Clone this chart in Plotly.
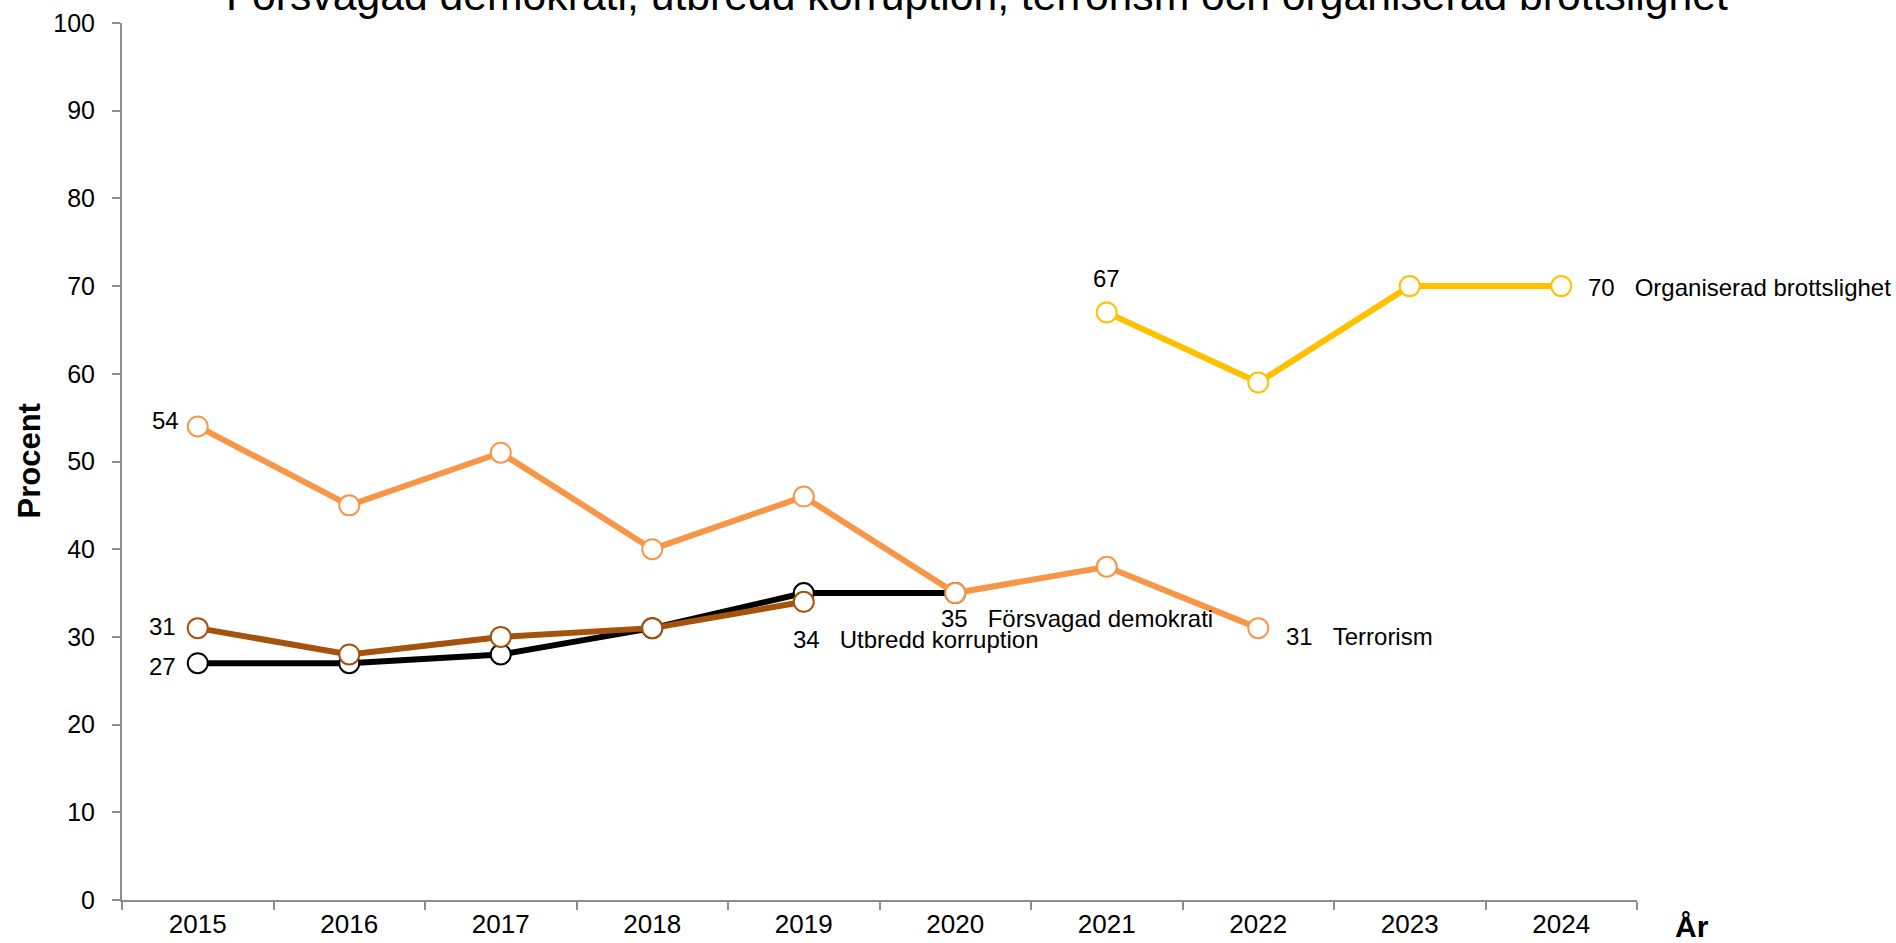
import plotly.graph_objects as go

years = ["2015", "2016", "2017", "2018", "2019", "2020", "2021", "2022", "2023", "2024"]

forsvagad_demokrati = [27, 27, 28, 31, 35, 35, None, None, None, None]
utbredd_korruption = [31, 28, 30, 31, 34, None, None, None, None, None]
terrorism = [54, 45, 51, 40, 46, 35, 38, 31, None, None]
organiserad_brottslighet = [None, None, None, None, None, None, 67, 59, 70, 70]

series_names = ["Försvagad demokrati", "Utbredd korruption", "Terrorism", "Organiserad brottslighet"]
series_values = [forsvagad_demokrati, utbredd_korruption, terrorism, organiserad_brottslighet]
series_colors = ["#000000", "#A5520C", "#F79646", "#FFC000"]

title_text = "Försvagad demokrati, utbredd korruption, terrorism och organiserad brottslighet"
y_title = "Procent"
x_title = "År"

FONT = "Arial, 'Liberation Sans', sans-serif"
SP = "\u00a0\u00a0\u00a0"

fig = go.Figure()
for name, vals, col in zip(series_names, series_values, series_colors):
    fig.add_trace(go.Scatter(
        x=years, y=vals, name=name, mode="lines+markers",
        line=dict(color=col, width=6),
        marker=dict(symbol="circle", size=20, color="white", line=dict(color=col, width=2)),
        connectgaps=False, showlegend=False, hoverinfo="x+y+name",
    ))

def last_idx(vals):
    return max(i for i, v in enumerate(vals) if v is not None)

def first_idx(vals):
    return min(i for i, v in enumerate(vals) if v is not None)

ann = []
def lab(idx, vals, text, xanchor, xshift, yshift):
    ann.append(dict(x=idx, y=vals[idx], xref="x", yref="y", text=text, showarrow=False,
                    xanchor=xanchor, yanchor="middle", xshift=xshift, yshift=yshift,
                    font=dict(family=FONT, size=24, color="black")))

# start labels
i = first_idx(terrorism); lab(i, terrorism, str(terrorism[i]), "right", -17, 6)
i = first_idx(utbredd_korruption); lab(i, utbredd_korruption, str(utbredd_korruption[i]), "right", -20, 2)
i = first_idx(forsvagad_demokrati); lab(i, forsvagad_demokrati, str(forsvagad_demokrati[i]), "right", -20, -3)
i = first_idx(organiserad_brottslighet); lab(i, organiserad_brottslighet, str(organiserad_brottslighet[i]), "center", 0, 34)
# end labels
i = last_idx(organiserad_brottslighet); lab(i, organiserad_brottslighet, f"{organiserad_brottslighet[i]}{SP}{series_names[3]}", "left", 25, -1)
i = last_idx(forsvagad_demokrati); lab(i, forsvagad_demokrati, f"{forsvagad_demokrati[i]}{SP}{series_names[0]}", "left", -16, -25)
i = last_idx(utbredd_korruption); lab(i, utbredd_korruption, f"{utbredd_korruption[i]}{SP}{series_names[1]}", "left", -13, -38)
i = last_idx(terrorism); lab(i, terrorism, f"{terrorism[i]}{SP}{series_names[2]}", "left", 26, -8)

# title
ann.append(dict(x=0.5644, y=1.0, xref="paper", yref="paper", text=title_text, showarrow=False,
                xanchor="center", yanchor="bottom", yshift=2,
                font=dict(family=FONT, size=42.7, color="black")))
# axis titles
ann.append(dict(x=1.0, y=0, xref="paper", yref="paper", text=f"<b>{x_title}</b>", showarrow=False,
                xanchor="left", yanchor="middle", xshift=36, yshift=-26,
                font=dict(family=FONT, size=30, color="black")))
ann.append(dict(x=-93 / 1515, y=0.5, xref="paper", yref="paper", text=f"<b>{y_title}</b>", showarrow=False,
                xanchor="center", yanchor="middle", textangle=-90,
                font=dict(family=FONT, size=31, color="black")))

fig.update_layout(
    width=1896, height=943,
    margin=dict(l=122, r=259, t=23, b=43, pad=0, autoexpand=False),
    paper_bgcolor="white", plot_bgcolor="white",
    font=dict(family=FONT, color="black"),
    annotations=ann,
)
fig.update_xaxes(
    type="category", categoryorder="array", categoryarray=years,
    range=[-0.5, len(years) - 0.5], automargin=False,
    showline=True, linecolor="#8E8E8E", linewidth=2,
    ticks="outside", tickson="boundaries", ticklen=8, tickcolor="#8E8E8E", tickwidth=1.5,
    tickfont=dict(family=FONT, size=26, color="black"),
    showgrid=False, zeroline=False,
)
fig.update_yaxes(
    range=[0, 100], tickmode="array", tickvals=list(range(0, 101, 10)), automargin=False,
    showline=True, linecolor="#8E8E8E", linewidth=2,
    ticks="outside", ticklen=8, tickcolor="#8E8E8E", tickwidth=1.5,
    tickfont=dict(family=FONT, size=25, color="black"), ticklabelstandoff=12,
    showgrid=False, zeroline=False,
)

fig.write_html(
    "out.html",
    config={"displayModeBar": False},
    post_script="document.body.style.margin='0';document.body.style.overflow='hidden';",
)
